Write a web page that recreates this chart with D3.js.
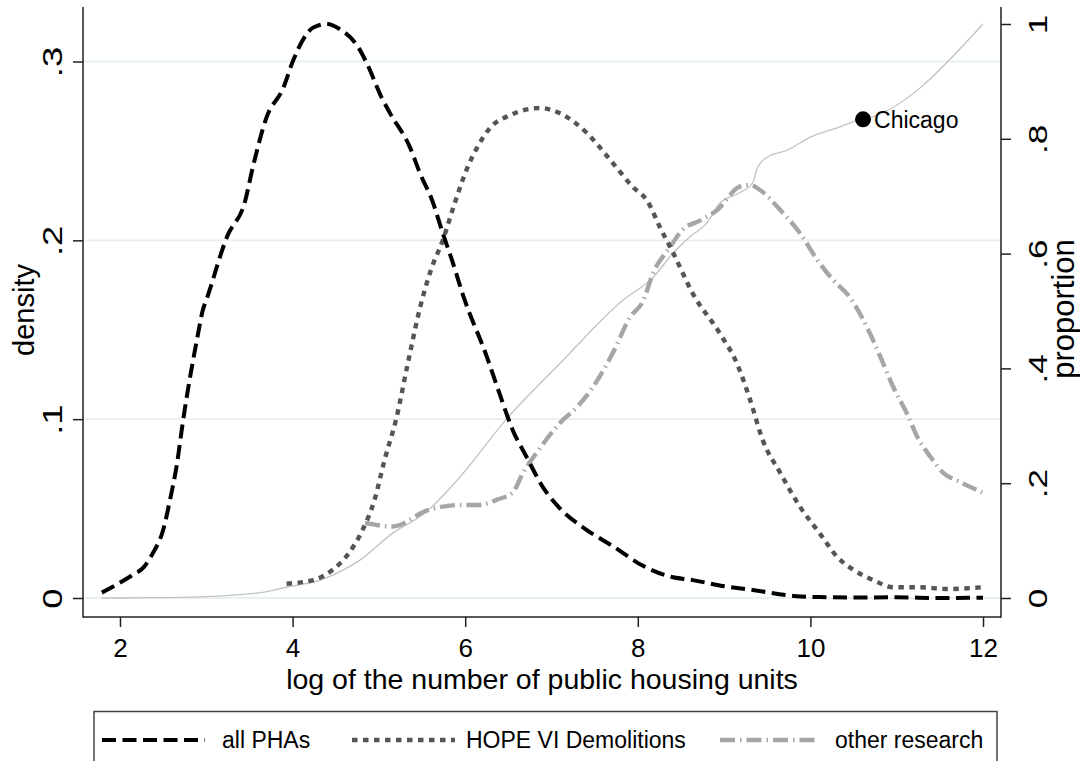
<!DOCTYPE html>
<html>
<head>
<meta charset="utf-8">
<script src="https://cdn.jsdelivr.net/npm/d3@7"></script>
<style>
  html, body { margin: 0; padding: 0; background: #fff; }
  svg { display: block; font-family: "Liberation Sans", Arial, Helvetica, sans-serif; }
</style>
</head>
<body>
<svg id="chart" width="1080" height="761"></svg>
<script>
// ---------------- data ----------------
const xTicks = [2, 4, 6, 8, 10, 12];
const yLeftTicks = [0, 0.1, 0.2, 0.3];
const yRightTicks = [0, 0.2, 0.4, 0.6, 0.8, 1];

const allPHAsX = [1.79, 2.15, 2.27, 2.38, 2.50, 2.58, 2.66, 2.73, 2.81, 2.89, 2.96, 3.01, 3.24, 3.45, 3.54, 3.70, 3.89, 4.01, 4.24, 4.40, 4.55, 4.76, 4.86, 5.03, 5.13, 5.36, 5.48, 5.62, 5.74, 5.86, 5.97, 6.25, 6.40, 6.55, 6.71, 6.90, 7.10, 7.41, 7.71, 8.06, 8.37, 8.64, 8.95, 9.33, 9.84, 10.1, 10.5, 11.0, 11.5, 12.0];
const allPHAsY = [0.003, 0.013, 0.017, 0.025, 0.038, 0.055, 0.075, 0.099, 0.123, 0.144, 0.161, 0.168, 0.202, 0.222, 0.241, 0.269, 0.285, 0.301, 0.319, 0.321, 0.318, 0.308, 0.299, 0.280, 0.271, 0.252, 0.237, 0.222, 0.204, 0.187, 0.170, 0.135, 0.114, 0.094, 0.079, 0.062, 0.050, 0.038, 0.029, 0.018, 0.012, 0.010, 0.007, 0.0045, 0.001, 0.0005, 0.0003, 0.0004, 0.0000, 0.0002];

const hopeX = [3.93, 4.24, 4.47, 4.65, 4.80, 4.95, 5.07, 5.20, 5.33, 5.48, 5.60, 5.74, 5.88, 6.02, 6.14, 6.29, 6.52, 6.87, 7.10, 7.41, 7.68, 7.94, 8.11, 8.26, 8.41, 8.64, 8.95, 9.15, 9.30, 9.45, 9.65, 9.88, 10.11, 10.31, 10.49, 10.73, 10.96, 11.27, 11.58, 11.99];
const hopeY = [0.008, 0.010, 0.016, 0.025, 0.037, 0.055, 0.078, 0.100, 0.130, 0.163, 0.183, 0.200, 0.221, 0.240, 0.252, 0.263, 0.270, 0.274, 0.271, 0.260, 0.245, 0.230, 0.222, 0.207, 0.193, 0.170, 0.148, 0.131, 0.111, 0.088, 0.070, 0.051, 0.036, 0.023, 0.016, 0.010, 0.006, 0.006, 0.005, 0.006];

const otherX = [4.84, 5.16, 5.56, 5.94, 6.17, 6.37, 6.55, 6.67, 6.87, 7.10, 7.30, 7.48, 7.71, 7.91, 8.06, 8.18, 8.37, 8.52, 8.72, 8.92, 9.18, 9.30, 9.42, 9.65, 9.88, 10.08, 10.26, 10.46, 10.66, 10.81, 10.96, 11.12, 11.24, 11.39, 11.54, 11.73, 11.99];
const otherY = [0.042, 0.040, 0.049, 0.052, 0.052, 0.055, 0.059, 0.070, 0.084, 0.098, 0.107, 0.118, 0.137, 0.157, 0.166, 0.182, 0.196, 0.206, 0.211, 0.217, 0.230, 0.231, 0.228, 0.217, 0.204, 0.189, 0.178, 0.168, 0.151, 0.135, 0.118, 0.103, 0.090, 0.079, 0.070, 0.065, 0.059];

const cumX = [1.79, 2.5, 2.93, 3.31, 3.70, 3.93, 4.32, 4.58, 4.78, 5.16, 5.55, 5.94, 6.48, 7.10, 7.83, 8.18, 8.41, 8.60, 8.80, 8.95, 9.18, 9.33, 9.39, 9.50, 9.73, 10.0, 10.31, 10.57, 10.61, 12.0];
const cumY = [0, 0.0005, 0.002, 0.005, 0.011, 0.019, 0.031, 0.048, 0.066, 0.113, 0.150, 0.211, 0.312, 0.409, 0.519, 0.559, 0.601, 0.629, 0.653, 0.688, 0.706, 0.723, 0.751, 0.768, 0.780, 0.803, 0.819, 0.833, 0.834, 1.0];

const chicagoLabel = ["Chicago"];
const chicagoX = [10.61];
const chicagoY = [0.834];

const seriesNames = ["all PHAs", "HOPE VI Demolitions", "other research"];

// ---------------- layout ----------------
const svg = d3.select("#chart");
const plotL = 83, plotR = 1001, plotT = 7, plotB = 617;

const xs = d3.scaleLinear().domain([2, 12]).range([120, 983]);
const yL = d3.scaleLinear().domain([0, 0.3]).range([598, 61.5]);
const yR = d3.scaleLinear().domain([0, 1]).range([598, 24]);

const fmt = d => d === 0 ? "0" : (d === 1 ? "1" : d3.format(".1f")(d).replace(/^0/, ""));

const styles = [
  { color: "#000000", width: 4, dash: "14,6.5" },
  { color: "#555555", width: 4.4, dash: "5.5,5.5" },
  { color: "#a6a6a6", width: 4.4, dash: "15,5,1.5,5" }
];

// gridlines
svg.append("g").selectAll("line").data(yLeftTicks).join("line")
  .attr("x1", plotL).attr("x2", plotR)
  .attr("y1", d => yL(d)).attr("y2", d => yL(d))
  .attr("stroke", "#e6eff1").attr("stroke-width", 1.8);

// axis lines
const axisColor = "#222";
svg.append("line").attr("x1", plotL).attr("x2", plotL).attr("y1", plotT).attr("y2", plotB + 0.75)
  .attr("stroke", axisColor).attr("stroke-width", 1.5);
svg.append("line").attr("x1", plotR).attr("x2", plotR).attr("y1", plotT).attr("y2", plotB + 0.75)
  .attr("stroke", axisColor).attr("stroke-width", 1.5);
svg.append("line").attr("x1", plotL).attr("x2", plotR).attr("y1", plotB).attr("y2", plotB)
  .attr("stroke", axisColor).attr("stroke-width", 1.5);

// x axis
const gx = svg.append("g").attr("transform", `translate(0,${plotB})`)
  .call(d3.axisBottom(xs).tickValues(xTicks).tickSize(10).tickSizeOuter(0).tickFormat(d3.format("d")));
gx.select(".domain").remove();
gx.selectAll(".tick line").attr("stroke", axisColor).attr("stroke-width", 1.5);
gx.selectAll(".tick text").attr("y", 40).attr("dy", null)
  .attr("font-size", 26).attr("fill", "#000").attr("font-family", "Liberation Sans, Arial, sans-serif");

// left axis
const gl = svg.append("g").attr("transform", `translate(${plotL},0)`)
  .call(d3.axisLeft(yL).tickValues(yLeftTicks).tickSize(10).tickSizeOuter(0).tickFormat(fmt));
gl.select(".domain").remove();
gl.selectAll(".tick line").attr("stroke", axisColor).attr("stroke-width", 1.5);
gl.selectAll(".tick text").attr("x", null).attr("dy", null).attr("y", null)
  .attr("text-anchor", "middle").attr("transform", "translate(-21,0) rotate(-90) scale(1.35,1)")
  .attr("font-size", 27).attr("fill", "#000").attr("font-family", "Liberation Sans, Arial, sans-serif");

// right axis
const gr = svg.append("g").attr("transform", `translate(${plotR},0)`)
  .call(d3.axisRight(yR).tickValues(yRightTicks).tickSize(10).tickSizeOuter(0).tickFormat(fmt));
gr.select(".domain").remove();
gr.selectAll(".tick line").attr("stroke", axisColor).attr("stroke-width", 1.5);
gr.selectAll(".tick text").attr("x", null).attr("dy", null).attr("y", null)
  .attr("text-anchor", "middle").attr("transform", "translate(46,0) rotate(-90) scale(1.35,1)")
  .attr("font-size", 26).attr("fill", "#000").attr("font-family", "Liberation Sans, Arial, sans-serif");

// axis titles
svg.append("text").attr("x", 542).attr("y", 689).attr("text-anchor", "middle")
  .attr("font-size", 28.5).attr("fill", "#000").text("log of the number of public housing units");
svg.append("text").attr("transform", "translate(34,310) rotate(-90)").attr("text-anchor", "middle")
  .attr("font-size", 29).attr("fill", "#000").text("density");
svg.append("text").attr("transform", "translate(1074,309) rotate(-90)").attr("text-anchor", "middle")
  .attr("font-size", 31).attr("fill", "#000").text("proportion");

// lines
const lineL = d3.line().x(d => xs(d[0])).y(d => yL(d[1])).curve(d3.curveMonotoneX);
const lineR = d3.line().x(d => xs(d[0])).y(d => yR(d[1])).curve(d3.curveMonotoneX);

svg.append("path").datum(d3.zip(cumX, cumY)).attr("d", lineR)
  .attr("fill", "none").attr("stroke", "#c2c2c2").attr("stroke-width", 1.3);

const densSeries = [d3.zip(allPHAsX, allPHAsY), d3.zip(hopeX, hopeY), d3.zip(otherX, otherY)];
// draw other research first, then HOPE, then all PHAs on top
[2, 1, 0].forEach(i => {
  svg.append("path").datum(densSeries[i]).attr("d", lineL)
    .attr("fill", "none").attr("stroke", styles[i].color).attr("stroke-width", styles[i].width)
    .attr("stroke-dasharray", styles[i].dash).attr("stroke-linejoin", "round");
});

// Chicago marker
svg.append("g").selectAll("circle").data(chicagoX).join("circle")
  .attr("cx", (d) => xs(d)).attr("cy", (d, i) => yR(chicagoY[i])).attr("r", 8).attr("fill", "#000");
svg.append("g").selectAll("text").data(chicagoLabel).join("text")
  .attr("x", (d, i) => xs(chicagoX[i]) + 11).attr("y", (d, i) => yR(chicagoY[i]) + 8.5)
  .attr("font-size", 23).attr("fill", "#000").text(d => d);

// legend
const legend = svg.append("g");
legend.append("rect").attr("x", 94).attr("y", 711.5).attr("width", 903).attr("height", 70)
  .attr("fill", "none").attr("stroke", "#444").attr("stroke-width", 1.5);
const legPos = [
  { x1: 102, x2: 205, tx: 222 },
  { x1: 352, x2: 455, tx: 466 },
  { x1: 720, x2: 818, tx: 835 }
];
seriesNames.forEach((name, i) => {
  legend.append("line").attr("x1", legPos[i].x1).attr("x2", legPos[i].x2)
    .attr("y1", 740).attr("y2", 740)
    .attr("stroke", styles[i].color).attr("stroke-width", styles[i].width)
    .attr("stroke-dasharray", styles[i].dash);
  legend.append("text").attr("x", legPos[i].tx).attr("y", 748)
    .attr("font-size", 23).attr("fill", "#000").text(name);
});
</script>
</body>
</html>
